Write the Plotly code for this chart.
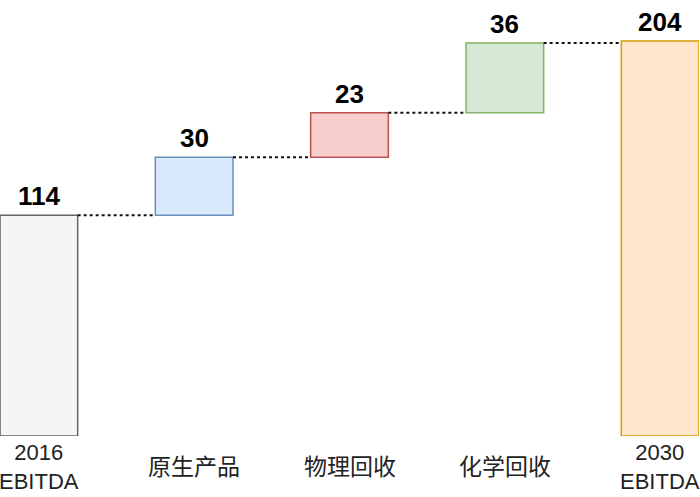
import plotly.graph_objects as go

categories = ["2016<br>EBITDA", "原生产品", "物理回收", "化学回收", "2030<br>EBITDA"]
values = [114, 30, 23, 36, 204]
kinds = ["total", "relative", "relative", "relative", "total"]
fill_colors = ["#f5f5f5", "#dae8fc", "#f8cecc", "#d5e8d4", "#ffe6cc"]
line_colors = ["#666666", "#6c8ebf", "#b85450", "#82b366", "#d79b00"]

# compute bases and tops
bases, tops = [], []
running = 0
for v, k in zip(values, kinds):
    if k == "total":
        bases.append(0)
        running = v
    else:
        bases.append(running)
        running += v
    tops.append(running)

xs = list(range(len(categories)))
bar_w = 0.5
FONT = "Liberation Sans, Arial, Noto Sans CJK SC, sans-serif"

fig = go.Figure()
fig.add_trace(go.Bar(
    x=xs, y=[t - b for t, b in zip(tops, bases)], base=bases, width=bar_w,
    marker=dict(color=fill_colors, line=dict(color=line_colors, width=1.5)),
    hoverinfo="skip", showlegend=False,
))

# connectors
for i in range(len(xs) - 1):
    fig.add_trace(go.Scatter(
        x=[xs[i] + bar_w / 2, xs[i + 1] - bar_w / 2], y=[tops[i], tops[i]],
        mode="lines", line=dict(color="#111111", width=2, dash="dot"),
        hoverinfo="skip", showlegend=False,
    ))

# value labels
for i, v in enumerate(values):
    fig.add_annotation(x=xs[i], y=tops[i], text=f"<b>{v}</b>", showarrow=False,
                       yanchor="bottom", yshift=2, font=dict(size=26, color="#000000", family=FONT))

# category labels
for i, c in enumerate(categories):
    size = 22 if "EBITDA" in c else 23
    fig.add_annotation(x=xs[i], xref="x", y=-0.07, yref="paper", text=c, showarrow=False,
                       yanchor="middle", font=dict(size=size, color="#222222", family=FONT))

fig.update_layout(
    width=700, height=497,
    margin=dict(l=0, r=1, t=0, b=61),
    paper_bgcolor="white", plot_bgcolor="white",
    xaxis=dict(range=[-0.25, 4.25], visible=False, fixedrange=True),
    yaxis=dict(range=[0, 225.2], visible=False, fixedrange=True),
    font=dict(family=FONT),
)

fig.write_html("out.html", config={"displayModeBar": False},
               post_script="document.body.style.margin='0';document.body.style.overflow='hidden';")
